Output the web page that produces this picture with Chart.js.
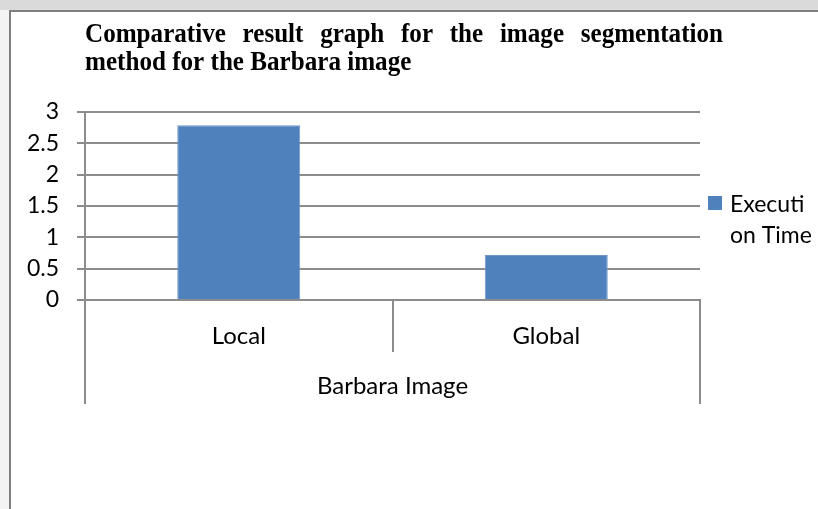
<!DOCTYPE html>
<html>
<head>
<meta charset="utf-8">
<script src="https://cdn.jsdelivr.net/npm/chart.js@4.4.1/dist/chart.umd.min.js"></script>
<style>
  html, body { margin: 0; padding: 0; background: #fff; }
  #wrap { width: 818px; height: 509px; position: relative; }
</style>
</head>
<body>
<div id="wrap"><canvas id="chart"></canvas></div>
<script>
// chart data
const categories = ['Local', 'Global'];
const groupLabel = 'Barbara Image';
const seriesName = 'Execution Time';
const executionTime = [2.79, 0.72];
const yTicks = [0, 0.5, 1, 1.5, 2, 2.5, 3];
const titleLines = [
  'Comparative result graph for the image segmentation',
  'method for the Barbara image'
];

const barColor = '#4f81bd';
const lineColor = '#8c8c8c';
const labelFont = 'Lato, "Open Sans", sans-serif';

// frame + title drawn behind the chart
const framePlugin = {
  id: 'frame',
  beforeDraw(chart) {
    const ctx = chart.ctx;
    const w = chart.width, h = chart.height;
    ctx.save();
    ctx.fillStyle = '#ffffff';
    ctx.fillRect(0, 0, w, h);
    ctx.fillStyle = '#dadada';
    ctx.fillRect(0, 0, w, 10);
    ctx.fillStyle = '#f3f3f3';
    ctx.fillRect(0, 10, 9, h - 10);
    ctx.strokeStyle = '#7f7f7f';
    ctx.lineWidth = 2;
    ctx.beginPath();
    ctx.moveTo(w, 11);
    ctx.lineTo(10, 11);
    ctx.lineTo(10, h);
    ctx.stroke();

    // justified title, slightly condensed
    const sx = 0.93;
    ctx.fillStyle = '#000';
    ctx.font = 'bold 27px "Liberation Serif", "Times New Roman", serif';
    ctx.textBaseline = 'alphabetic';
    const left = 85, right = 723;
    ctx.translate(left, 0);
    ctx.scale(sx, 1);
    const words = titleLines[0].split(' ');
    const widths = words.map(t => ctx.measureText(t).width);
    const total = widths.reduce((a, b) => a + b, 0);
    const gap = ((right - left) / sx - total) / (words.length - 1);
    let x = 0;
    words.forEach((t, i) => {
      ctx.fillText(t, x, 42);
      x += widths[i] + gap;
    });
    ctx.fillText(titleLines[1], 0, 70);
    ctx.restore();
  },
  afterDraw(chart) {
    const ctx = chart.ctx;
    const xs = chart.scales.x;
    const area = chart.chartArea;
    const tick = chart.options.scales.x.grid.tickLength;
    ctx.save();
    // outer group separators
    ctx.strokeStyle = lineColor;
    ctx.lineWidth = 2;
    ctx.beginPath();
    [xs.left, xs.right].forEach(px => {
      ctx.moveTo(px, area.bottom);
      ctx.lineTo(px, area.bottom + tick * 2);
    });
    ctx.stroke();
    // group label
    ctx.fillStyle = '#000';
    ctx.font = '24px ' + labelFont;
    ctx.textAlign = 'center';
    ctx.textBaseline = 'middle';
    ctx.fillText(groupLabel, (xs.left + xs.right) / 2, area.bottom + tick * 1.65);

    // legend
    const ds = chart.data.datasets[0];
    const lx = area.right + 8, ly = 196;
    ctx.fillStyle = ds.backgroundColor;
    ctx.fillRect(lx, ly, 14, 14);
    ctx.fillStyle = '#000';
    ctx.font = '23px ' + labelFont;
    ctx.textAlign = 'left';
    ctx.textBaseline = 'alphabetic';
    const lines = [ds.label.slice(0, 7), ds.label.slice(7)];
    lines.forEach((t, i) => ctx.fillText(t, lx + 22, ly + 16 + i * 31));
    ctx.restore();
  }
};

new Chart(document.getElementById('chart'), {
  type: 'bar',
  data: {
    labels: categories,
    datasets: [{
      label: seriesName,
      data: executionTime,
      backgroundColor: barColor,
      borderColor: '#6f95c6',
      borderWidth: 1,
      barPercentage: 0.4,
      categoryPercentage: 1
    }]
  },
  options: {
    responsive: true,
    maintainAspectRatio: false,
    animation: false,
    devicePixelRatio: 1,
    layout: { padding: { top: 112, right: 118, left: 0, bottom: 0 } },
    plugins: {
      legend: { display: false },
      title: { display: false },
      tooltip: { enabled: false }
    },
    scales: {
      x: {
        offset: true,
        grid: {
          offset: true,
          drawOnChartArea: false,
          color: lineColor,
          lineWidth: 2,
          tickLength: 52
        },
        border: { color: lineColor, width: 2 },
        ticks: {
          color: '#000',
          font: { family: labelFont, size: 24 },
          padding: -30,
          maxRotation: 0
        },
        afterFit(scale) { scale.height = 209; }
      },
      y: {
        min: 0,
        max: 3,
        afterBuildTicks(scale) { scale.ticks = yTicks.map(v => ({ value: v })); },
        grid: {
          color: lineColor,
          lineWidth: 2,
          tickLength: 8
        },
        border: { color: lineColor, width: 2 },
        ticks: {
          color: '#000',
          font: { family: labelFont, size: 23 },
          padding: 18,
          autoSkip: false,
          callback: v => String(v)
        },
        afterFit(scale) { scale.width = 85; }
      }
    }
  },
  plugins: [framePlugin]
});
</script>
</body>
</html>
